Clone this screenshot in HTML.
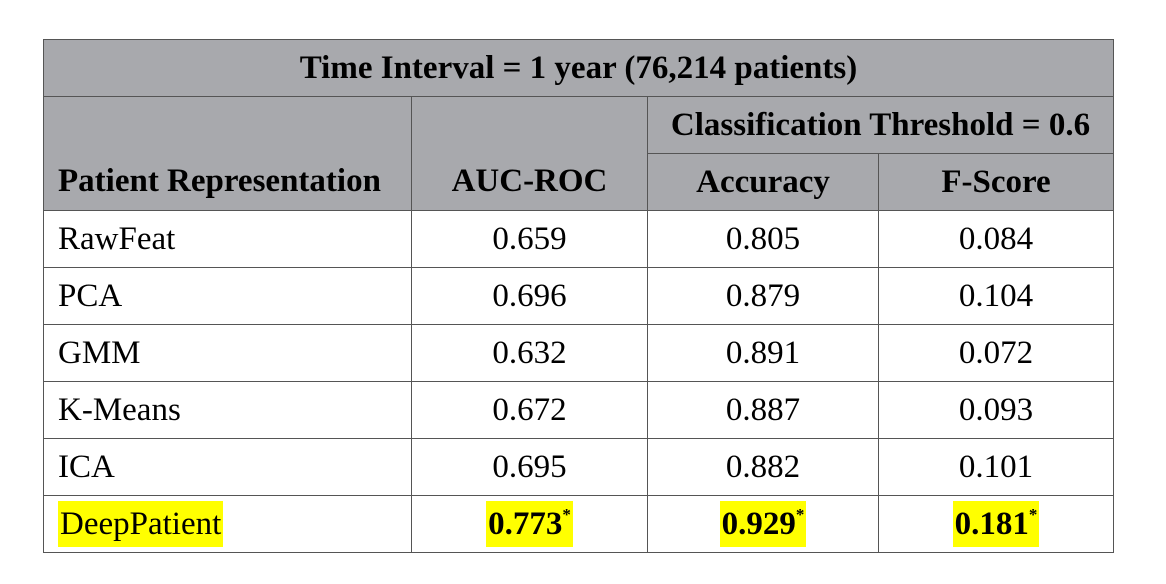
<!DOCTYPE html>
<html><head><meta charset="utf-8"><style>
body{margin:0;width:1166px;height:584px;background:#fff;overflow:hidden}
table{position:absolute;left:43px;top:39px;border-collapse:collapse;font-family:"Liberation Serif",serif;font-size:33px;color:#000;table-layout:fixed}
td,th{border:1.5px solid #555;padding:0;height:56px;text-align:center;font-weight:normal;white-space:nowrap}
th{background:#a8a9ad;font-weight:bold}
td.l,th.l{text-align:left;padding-left:14px}
.hl{background:#ffff00;padding:5px 2px;font-weight:bold}
.dp{background:#ffff00;padding:5px 2px}
sup{font-size:17px;vertical-align:top;line-height:1}
</style></head><body>
<table>
<colgroup><col style="width:368px"><col style="width:236px"><col style="width:231px"><col style="width:235px"></colgroup>
<tr><th colspan="4">Time Interval = 1 year (76,214 patients)</th></tr>
<tr><th rowspan="2" class="l" style="vertical-align:bottom;padding-bottom:10px">Patient Representation</th>
<th rowspan="2" style="vertical-align:bottom;padding-bottom:10px">AUC-ROC</th>
<th colspan="2">Classification Threshold = 0.6</th></tr>
<tr><th>Accuracy</th><th>F-Score</th></tr>
<tr><td class="l">RawFeat</td><td>0.659</td><td>0.805</td><td>0.084</td></tr>
<tr><td class="l">PCA</td><td>0.696</td><td>0.879</td><td>0.104</td></tr>
<tr><td class="l">GMM</td><td>0.632</td><td>0.891</td><td>0.072</td></tr>
<tr><td class="l">K-Means</td><td>0.672</td><td>0.887</td><td>0.093</td></tr>
<tr><td class="l">ICA</td><td>0.695</td><td>0.882</td><td>0.101</td></tr>
<tr><td class="l"><span class="dp">DeepPatient</span></td><td><span class="hl">0.773<sup>*</sup></span></td><td><span class="hl">0.929<sup>*</sup></span></td><td><span class="hl">0.181<sup>*</sup></span></td></tr>
</table>
</body></html>
